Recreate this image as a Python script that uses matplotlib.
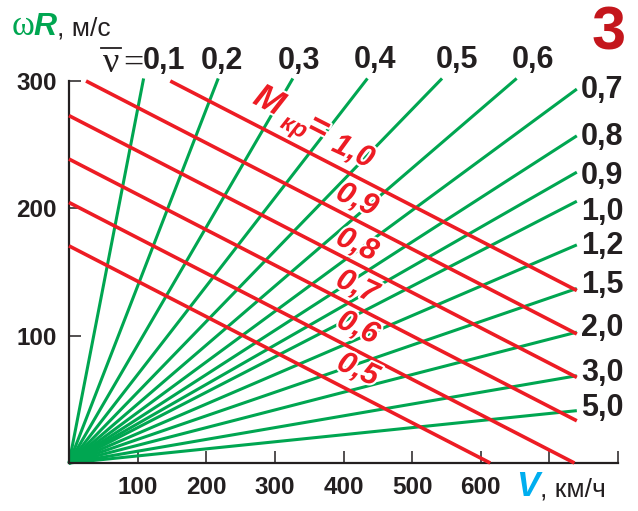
import matplotlib
matplotlib.use("Agg")
import matplotlib.pyplot as plt
import matplotlib.patheffects as pe
from matplotlib.lines import Line2D
import numpy as np

# advance ratio lines (green) and critical tip Mach lines (red)
nu_values = [0.1, 0.2, 0.3, 0.4, 0.5, 0.6, 0.7, 0.8, 0.9, 1.0, 1.2, 1.5, 2.0, 3.0, 5.0]
nu_labels = ["0,1", "0,2", "0,3", "0,4", "0,5", "0,6", "0,7", "0,8",
             "0,9", "1,0", "1,2", "1,5", "2,0", "3,0", "5,0"]
mach_values = [0.5, 0.6, 0.7, 0.8, 0.9, 1.0]
mach_labels = ["0,5", "0,6", "0,7", "0,8", "0,9", "1,0"]
sound_speed = 341.0   # m/s
v_max = 740.0         # km/h, right end of the lines
wr_top = 302.0        # m/s, top end of green lines
wr_cap = 300.0        # red lines stop at top of axis

x_ticks = [100, 200, 300, 400, 500, 600, 700, 800]
x_ticklabels = ["100", "200", "300", "400", "500", "600", "", ""]
y_ticks = [100, 200, 300]
y_ticklabels = ["100", "200", "300"]

GREEN = "#00A651"
RED = "#ED1C24"
DARK = "#231F20"
BLUE = "#00AEEF"
FONT = "Liberation Sans"

W, H = 638, 511
fig = plt.figure(figsize=(W / 100, H / 100), dpi=100)
ax = fig.add_axes([69 / W, 48 / H, 549 / W, 382 / H])
ax.set_xlim(0, 800)
ax.set_ylim(0, 300)


def px(x, y):
    # pixel position (from top-left) -> figure fraction
    return x / W, 1 - y / H


# green lines
for nu in nu_values:
    v_end = min(v_max, wr_top * 3.6 * nu)
    ax.plot([0, v_end], [0, v_end / (3.6 * nu)], color=GREEN, lw=2.2,
            clip_on=False, solid_capstyle="butt", zorder=2)

# red lines
for m in mach_values:
    top = m * sound_speed
    v0 = max(0.0, (top - wr_cap) * 3.6)
    v1 = min(v_max, top * 3.6)
    vv = np.array([v0, v1])
    ax.plot(vv, top - vv / 3.6, color=RED, lw=2.6, clip_on=False,
            solid_capstyle="butt", zorder=3)

# axes styling
for s in ["top", "right"]:
    ax.spines[s].set_visible(False)
for s in ["left", "bottom"]:
    ax.spines[s].set_color(DARK)
    ax.spines[s].set_linewidth(1.6)
ax.set_xticks(x_ticks)
ax.set_xticklabels(x_ticklabels)
ax.set_yticks(y_ticks)
ax.set_yticklabels(y_ticklabels)
ax.tick_params(direction="in", length=8.5, width=1.1, color=DARK,
               labelsize=17.5, pad=9, labelcolor=DARK)
for lab in ax.get_xticklabels() + ax.get_yticklabels():
    lab.set_fontweight("bold")
    lab.set_fontfamily(FONT)

# green labels along top / right
top_pos = {"0,1": (164, 61), "0,2": (222, 61), "0,3": (299, 61),
           "0,4": (375, 60), "0,5": (457, 60), "0,6": (533, 60)}
right_pos = {"0,7": 90, "0,8": 137, "0,9": 176, "1,0": 212, "1,2": 246,
             "1,5": 285, "2,0": 328, "3,0": 373, "5,0": 408}
for lab in nu_labels:
    if lab in top_pos:
        x, y = top_pos[lab]
        fig.text(*px(x, y), lab, ha="center", va="center", fontsize=22,
                 fontweight="bold", family=FONT, color=DARK)
    else:
        fig.text(*px(581, right_pos[lab]), lab, ha="left", va="center",
                 fontsize=22, fontweight="bold", family=FONT, color=DARK)

# nu-bar = 
fig.text(*px(111, 72), "ν", ha="center", va="baseline", fontsize=26,
         family="Liberation Serif", color=DARK)
fig.add_artist(Line2D([101 / W, 121 / W], [1 - 48 / H, 1 - 48 / H],
                      color=DARK, lw=1.3))
fig.text(*px(133, 64), "=", ha="center", va="center", fontsize=26,
         family="Liberation Serif", color=DARK)

# red Mach labels
halo = [pe.withStroke(linewidth=3, foreground="white")]
mach_pos = {"1,0": (353, 152), "0,9": (357, 200), "0,8": (357, 245),
            "0,7": (357, 287), "0,6": (358, 328), "0,5": (358, 370)}
for lab in mach_labels:
    x, y = mach_pos[lab]
    fig.text(*px(x, y), lab, ha="center", va="center", fontsize=22,
             fontweight="bold", fontstyle="italic", family=FONT, color=RED,
             rotation=-25, rotation_mode="anchor", path_effects=halo, zorder=5)

fig.text(*px(269, 101), "M", ha="center", va="center", fontsize=25,
         fontweight="bold", fontstyle="italic", family=FONT, color=RED,
         rotation=-27, rotation_mode="anchor", path_effects=halo, zorder=5)
fig.text(*px(294, 127), "кр", ha="center", va="center", fontsize=17,
         fontweight="bold", fontstyle="italic", family=FONT, color=RED,
         rotation=-27, rotation_mode="anchor", path_effects=halo, zorder=5)
fig.text(*px(319, 128), "=", ha="center", va="center", fontsize=25,
         fontweight="bold", family=FONT, color=RED,
         rotation=-27, rotation_mode="anchor", path_effects=halo, zorder=5)

# axis titles
fig.text(*px(12, 35), "ω", ha="left", va="baseline", fontsize=25,
         family="Liberation Serif", color=GREEN)
fig.text(*px(33, 35), "R", ha="left", va="baseline", fontsize=23,
         fontweight="bold", fontstyle="italic", family=FONT, color=GREEN)
fig.text(*px(57, 35), ", м/с", ha="left", va="baseline", fontsize=19,
         family=FONT, color=DARK)

fig.text(*px(516, 496), "V", ha="left", va="baseline", fontsize=25,
         fontweight="bold", fontstyle="italic", family=FONT, color=BLUE)
fig.text(*px(540, 496), ", км/ч", ha="left", va="baseline", fontsize=19,
         family=FONT, color=DARK)

fig.text(*px(609, 50), "3", ha="center", va="baseline", fontsize=44,
         fontweight="bold", family=FONT, color="#C4161C")

fig.savefig("out.png", dpi=100)
